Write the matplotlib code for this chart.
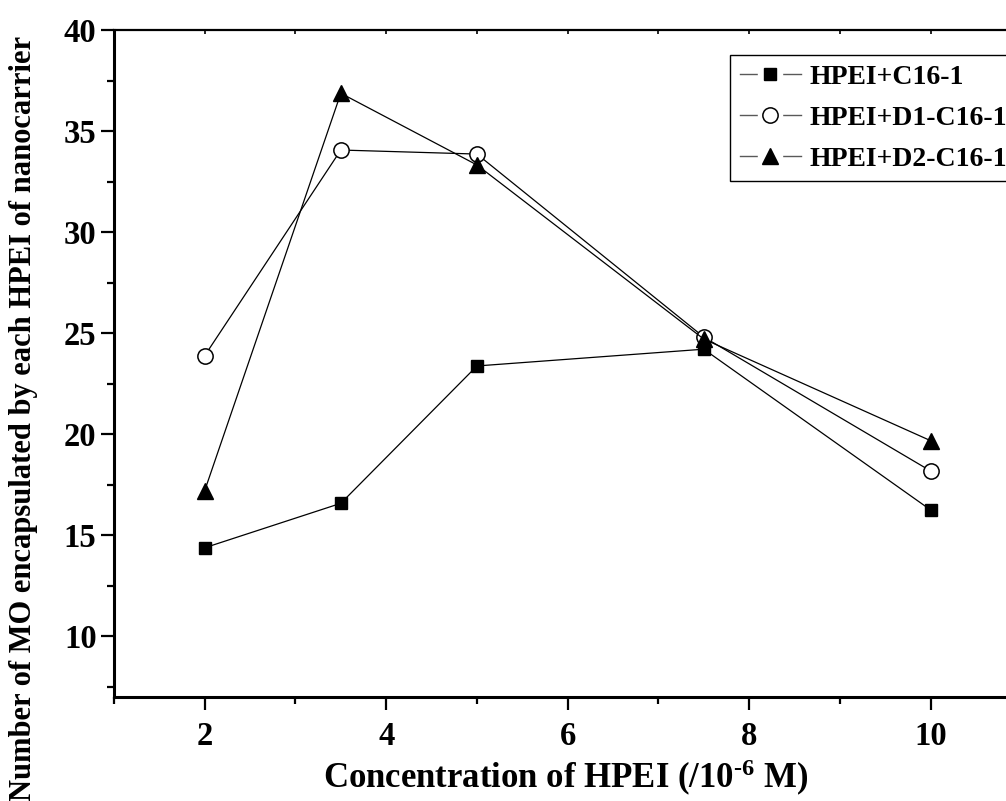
import matplotlib
matplotlib.use("Agg")
import matplotlib.pyplot as plt
from matplotlib.lines import Line2D
from matplotlib.legend_handler import HandlerTuple
from matplotlib.ticker import MultipleLocator

plt.rcParams['font.family'] = ['Liberation Serif', 'DejaVu Serif']
plt.rcParams['font.weight'] = 'bold'
plt.rcParams['mathtext.fontset'] = 'custom'
plt.rcParams['mathtext.rm'] = 'Liberation Serif:bold'
plt.rcParams['mathtext.it'] = 'Liberation Serif:bold'
plt.rcParams['mathtext.bf'] = 'Liberation Serif:bold'
plt.rcParams['mathtext.default'] = 'rm'

# ---- data ----
conc = [2, 3.5, 5, 7.5, 10]
hpei_c16 = [14.37, 16.57, 23.37, 24.2, 16.24]
hpei_d1_c16 = [23.88, 34.06, 33.86, 24.8, 18.17]
hpei_d2_c16 = [17.2, 36.87, 33.32, 24.7, 19.67]
series_labels = ["HPEI+C16-1", "HPEI+D1-C16-1", "HPEI+D2-C16-1"]
x_label = "Concentration of HPEI (/10$^{\u20106}$ M)"
y_label = "Number of MO encapsulated by each HPEI of nanocarrier"
x_ticks = [2, 4, 6, 8, 10]
y_ticks = [10, 15, 20, 25, 30, 35, 40]

fig = plt.figure(figsize=(10.06, 8.01), dpi=100)
ax = fig.add_axes([0.1133, 0.1303, 0.902, 0.8322])

styles = [
    dict(marker='s', ms=9, mfc='black', mec='black'),
    dict(marker='o', ms=11, mfc='white', mec='black', mew=1.1),
    dict(marker='^', ms=12, mfc='black', mec='black'),
]
for ys, st in zip([hpei_c16, hpei_d1_c16, hpei_d2_c16], styles):
    ax.plot(conc, ys, color='black', lw=0.9, **st)

ax.set_xlim(1, 11)
ax.set_ylim(7, 40)
ax.set_xticks(x_ticks)
ax.set_yticks(y_ticks)
ax.xaxis.set_minor_locator(MultipleLocator(1))
ax.yaxis.set_minor_locator(MultipleLocator(2.5))

ax.spines['left'].set_linewidth(2.2)
ax.spines['bottom'].set_linewidth(2.2)
ax.spines['top'].set_linewidth(1.6)
ax.spines['right'].set_visible(False)

ax.tick_params(axis='both', which='major', direction='out', length=9.5, width=1.6,
               labelsize=23.5, color='black')
ax.tick_params(axis='both', which='minor', direction='out', length=5, width=1.6)
ax.tick_params(axis='x', which='major', pad=8)
ax.tick_params(axis='y', which='major', pad=3)
for lab in ax.get_xticklabels() + ax.get_yticklabels():
    lab.set_fontweight('bold')

# small inward ticks on top spine
sec = ax.secondary_xaxis('top')
sec.set_xticks(list(range(1, 12)))
sec.tick_params(direction='in', length=3, width=1.2, labeltop=False)
sec.spines['top'].set_visible(False)

# labels
fig.text(0.5626, 1 - 788 / 801, x_label, ha='center', va='baseline',
         fontsize=25, fontweight='bold')
fig.text(24 / 1006, 1 - 418 / 801, y_label, ha='center', va='center',
         rotation=90, fontsize=22, fontweight='bold')

# legend with gapped handles
handles = []
for st in styles:
    line = Line2D([0, 1], [0, 0], color='0.35', lw=1.0)
    gap = Line2D([0], [0], marker='s', ms=17, mfc='white', mec='white', ls='none')
    mk = Line2D([0], [0], ls='none', **st)
    handles.append((line, gap, mk))

leg = fig.legend(handles, series_labels, loc='upper left',
                 bbox_to_anchor=(730 / 1006, 1 - 55 / 801),
                 handler_map={tuple: HandlerTuple(ndivide=1)},
                 prop=dict(family='Liberation Serif', weight='bold', size=20),
                 frameon=True, fancybox=False, edgecolor='black', framealpha=1,
                 borderpad=0.35, labelspacing=0.55, handlelength=2.2,
                 handletextpad=0.3, borderaxespad=0)
leg.get_frame().set_linewidth(1.0)

fig.savefig("out.png", dpi=100)
